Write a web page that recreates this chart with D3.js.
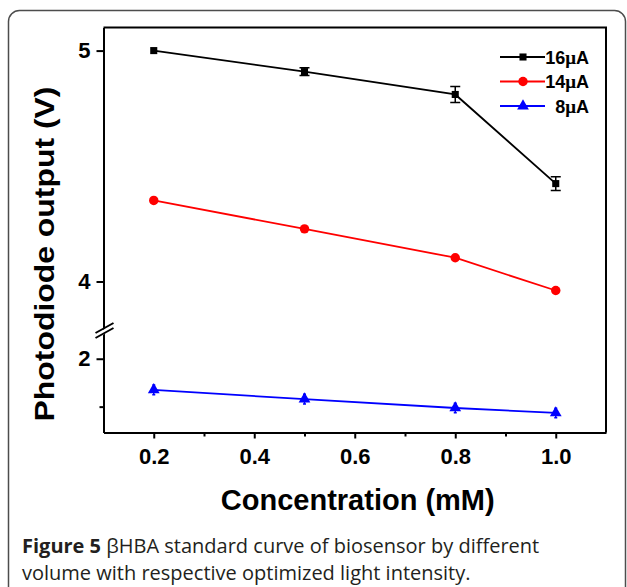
<!DOCTYPE html>
<html>
<head>
<meta charset="utf-8">
<script src="https://cdn.jsdelivr.net/npm/d3@7"></script>
<style>
	body { margin: 0; background: #fff; }
	svg { display: block; }
	.axis text { font-family: "Liberation Sans", Arial, sans-serif; font-weight: bold; fill: #000; }
	.axis path, .axis line { stroke: #000; stroke-width: 2; }
</style>
</head>
<body>
<div id="chart"></div>
<script>
// data
var concentrations = [0.2, 0.5, 0.8, 1.0];
var seriesNames = ["16", "14", " 8"];
var output16 = [5.00, 4.909, 4.81, 4.424];
var error16 = [0, 0.017, 0.035, 0.03];
var output14 = [4.351, 4.228, 4.103, 3.961];
var error14 = [0, 0, 0, 0];
var output8 = [1.675, 1.578, 1.486, 1.434];
var error8 = [0.05, 0.05, 0.05, 0.05];
var xTicks = [0.2, 0.4, 0.6, 0.8, 1.0];
var xMinorTicks = [0.3, 0.5, 0.7, 0.9];
var yTopTicks = [4, 5];
var yBottomTicks = [2];
var yBottomMinor = [1.5];

var w = 627, h = 587;
var plotLeft = 103.5, plotRight = 606, plotTop = 27.5, plotBottom = 432.5, brk = 330;

var svg = d3.select("#chart").append("svg")
	.attr("width", w)
	.attr("height", h);

// outer rounded frame of the figure
svg.append("rect")
	.attr("x", 8.5).attr("y", 10.5)
	.attr("width", 617).attr("height", 600)
	.attr("rx", 11)
	.attr("fill", "none")
	.attr("stroke", "#4d4d4d")
	.attr("stroke-width", 1.5);

var x = d3.scaleLinear().domain([0.1, 1.1]).range([plotLeft, plotRight]);
var yTop = d3.scaleLinear().domain([3.79, 5.1]).range([brk, plotTop]);
var yBot = d3.scaleLinear().domain([1.23, 2.3]).range([plotBottom, brk]);

function yOf (v) {
	return v > 3 ? yTop(v) : yBot(v);
}

// plot frame (top and right)
svg.append("path")
	.attr("d", "M" + plotLeft + "," + plotTop + "H" + plotRight + "V" + plotBottom)
	.attr("fill", "none")
	.attr("stroke", "#000")
	.attr("stroke-width", 2);

// x axis
var xAxis = svg.append("g")
	.attr("class", "axis")
	.attr("transform", "translate(0," + plotBottom + ")")
	.call(d3.axisBottom(x).tickValues(xTicks).tickSize(6).tickSizeOuter(0).tickPadding(10)
		.tickFormat(d3.format(".1f")));
xAxis.selectAll("text").attr("font-size", 22);

svg.append("g")
	.attr("class", "axis")
	.attr("transform", "translate(0," + plotBottom + ")")
	.call(d3.axisBottom(x).tickValues(xMinorTicks).tickSize(4).tickFormat(""))
	.select(".domain").remove();

// y axis, broken in two parts
var yAxisTop = svg.append("g")
	.attr("class", "axis")
	.attr("transform", "translate(" + plotLeft + ",0)")
	.call(d3.axisLeft(yTop).tickValues(yTopTicks).tickSize(7).tickSizeOuter(0).tickPadding(6)
		.tickFormat(d3.format("d")));
yAxisTop.selectAll("text").attr("font-size", 22);

var yAxisBot = svg.append("g")
	.attr("class", "axis")
	.attr("transform", "translate(" + plotLeft + ",0)")
	.call(d3.axisLeft(yBot).tickValues(yBottomTicks).tickSize(7).tickSizeOuter(0).tickPadding(6)
		.tickFormat(d3.format("d")));
yAxisBot.selectAll("text").attr("font-size", 22);

svg.append("g")
	.attr("class", "axis")
	.attr("transform", "translate(" + plotLeft + ",0)")
	.call(d3.axisLeft(yBot).tickValues(yBottomMinor).tickSize(4).tickFormat(""))
	.select(".domain").remove();

// break marks
svg.append("path")
	.attr("d", "M" + (plotLeft - 8) + "," + (brk + 4) + "L" + (plotLeft + 10) + "," + (brk - 6) +
		"L" + (plotLeft + 10) + "," + (brk - 1) + "L" + (plotLeft - 8) + "," + (brk + 9) + "Z")
	.attr("fill", "#fff");
[0, 5].forEach(function (o) {
	svg.append("line")
		.attr("x1", plotLeft - 8).attr("y1", brk + 3 + o)
		.attr("x2", plotLeft + 10).attr("y2", brk - 7 + o)
		.attr("stroke", "#000")
		.attr("stroke-width", 2);
});

// axis titles
svg.append("text")
	.attr("x", (plotLeft + plotRight) / 2 + 3)
	.attr("y", 510)
	.attr("text-anchor", "middle")
	.attr("font-family", "Liberation Sans, Arial, sans-serif")
	.attr("font-weight", "bold")
	.attr("font-size", 29)
	.text("Concentration (mM)");

svg.append("text")
	.attr("transform", "translate(54,254) rotate(-90)")
	.attr("text-anchor", "middle")
	.attr("font-family", "Liberation Sans, Arial, sans-serif")
	.attr("font-weight", "bold")
	.attr("font-size", 27)
	.attr("textLength", 335)
	.attr("lengthAdjust", "spacingAndGlyphs")
	.text("Photodiode output (V)");

// series
var series = [
	{name: seriesNames[0], values: output16, errors: error16, color: "#000", shape: d3.symbolSquare, size: 50, cap: 5},
	{name: seriesNames[1], values: output14, errors: error14, color: "#ff0000", shape: d3.symbolCircle, size: 70, cap: 5},
	{name: seriesNames[2], values: output8, errors: error8, color: "#0000ff", shape: d3.symbolTriangle, size: 60, cap: 1.5}
];

var line = d3.line()
	.x(function (d) { return x(d.c); })
	.y(function (d) { return yOf(d.v); });

series.forEach(function (s) {
	var pts = concentrations.map(function (c, i) {
		return {c: c, v: s.values[i], e: s.errors[i]};
	});

	var g = svg.append("g");

	g.append("path")
		.datum(pts)
		.attr("d", line)
		.attr("fill", "none")
		.attr("stroke", s.color)
		.attr("stroke-width", 1.8);

	g.selectAll(".err")
		.data(pts.filter(function (d) { return d.e > 0; }))
		.enter()
		.append("path")
		.attr("class", "err")
		.attr("d", function (d) {
			var cx = x(d.c), y1 = yOf(d.v + d.e), y2 = yOf(d.v - d.e);
			return "M" + (cx - s.cap) + "," + y1 + "H" + (cx + s.cap) +
				"M" + cx + "," + y1 + "V" + y2 +
				"M" + (cx - s.cap) + "," + y2 + "H" + (cx + s.cap);
		})
		.attr("fill", "none")
		.attr("stroke", s.color)
		.attr("stroke-width", 1.5);

	g.selectAll(".mark")
		.data(pts)
		.enter()
		.append("path")
		.attr("class", "mark")
		.attr("transform", function (d) {
			return "translate(" + x(d.c) + "," + yOf(d.v) + ")";
		})
		.attr("d", d3.symbol().type(s.shape).size(s.size))
		.attr("fill", s.color);
});

// legend
var legend = svg.append("g")
	.selectAll("g")
	.data(series)
	.enter()
	.append("g")
	.attr("transform", function (d, i) {
		return "translate(500," + (57 + i * 24.5) + ")";
	});

legend.append("line")
	.attr("x1", 0).attr("x2", 45)
	.attr("stroke", function (d) { return d.color; })
	.attr("stroke-width", 1.8);

legend.append("path")
	.attr("transform", "translate(23,0)")
	.attr("d", function (d) { return d3.symbol().type(d.shape).size(d.size)(); })
	.attr("fill", function (d) { return d.color; });

var lt = legend.append("text")
	.attr("x", 89)
	.attr("y", 6.5)
	.attr("text-anchor", "end")
	.attr("font-family", "Liberation Sans, Arial, sans-serif")
	.attr("font-weight", "bold")
	.attr("font-size", 18)
	.attr("xml:space", "preserve");
lt.append("tspan").text(function (d) { return d.name; });
lt.append("tspan")
	.attr("font-family", "Liberation Serif, Times New Roman, serif")
	.attr("font-size", 19)
	.text("\u03bc");
lt.append("tspan").text("A");

// caption
var caption = svg.append("text")
	.attr("font-family", "Open Sans, sans-serif")
	.attr("font-size", 20)
	.attr("fill", "#231f20");
var c1 = caption.append("tspan").attr("x", 22).attr("y", 553);
c1.append("tspan").attr("font-weight", "bold").text("Figure 5");
c1.append("tspan").text(" \u03b2HBA standard curve of biosensor by different");
caption.append("tspan").attr("x", 22).attr("y", 580)
	.text("volume with respective optimized light intensity.");
</script>
</body>
</html>
